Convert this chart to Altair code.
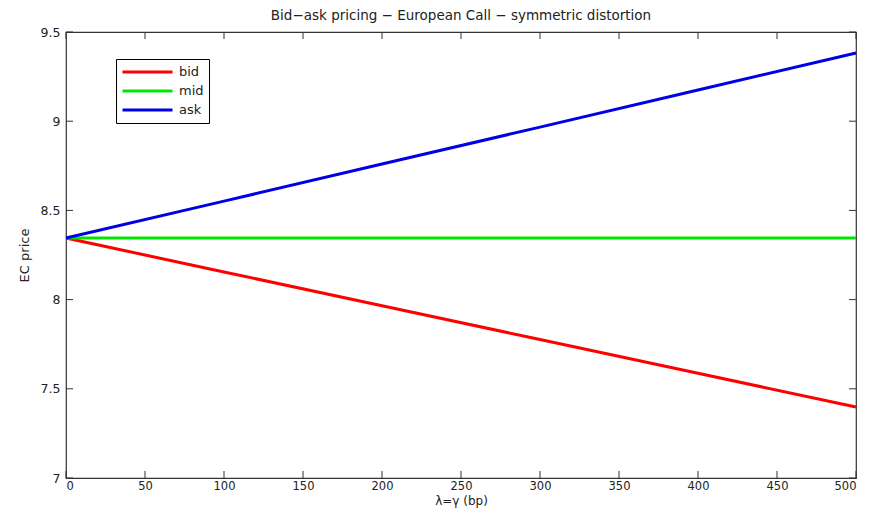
import altair as alt
import pandas as pd

lam = [0, 100, 200, 300, 400, 500]
bid = [8.345, 8.155, 7.966, 7.776, 7.587, 7.398]
mid = [8.345, 8.345, 8.345, 8.345, 8.345, 8.345]
ask = [8.345, 8.552, 8.760, 8.967, 9.175, 9.382]
series = ["bid", "mid", "ask"]
colors = ["#ff0000", "#00e600", "#0000e6"]
x_ticks = [0, 50, 100, 150, 200, 250, 300, 350, 400, 450, 500]
y_ticks = [7, 7.5, 8, 8.5, 9, 9.5]

W, H = 790, 446
FONT = "DejaVu Sans"

rows = []
for name, vals in zip(series, [bid, mid, ask]):
    for xv, yv in zip(lam, vals):
        rows.append({"lam": xv, "price": yv, "series": name})
df = pd.DataFrame(rows)

xscale = alt.Scale(domain=[0, 500], nice=False, zero=False)
yscale = alt.Scale(domain=[7, 9.5], nice=False, zero=False)

lines = alt.Chart(df).mark_line(strokeWidth=3).encode(
    x=alt.X("lam:Q", scale=xscale,
            axis=alt.Axis(title="λ=γ (bp)", values=x_ticks, ticks=False, grid=False,
                          labelPadding=2, domain=False,
                          titleY=26.5, titleBaseline="alphabetic",
                          labelFontSize=11.5, titleFontSize=12)),
    y=alt.Y("price:Q", scale=yscale,
            axis=alt.Axis(title="EC price", values=y_ticks, format="~g", ticks=False,
                          grid=False, labelPadding=6, titlePadding=9, domain=False,
                          labelFontSize=12.5, titleFontSize=13)),
    color=alt.Color("series:N", sort=series,
                    scale=alt.Scale(domain=series, range=colors),
                    legend=alt.Legend(title=None, orient="none", legendX=50, legendY=27,
                                      symbolType="stroke", symbolSize=2500,
                                      symbolStrokeWidth=3, clipHeight=16,
                                      strokeColor="black", fillColor="white",
                                      padding=5, labelFontSize=13, labelFont=FONT,
                                      labelColor="#222222", rowPadding=3,
                                      labelOffset=5)),
)

xt = pd.DataFrame({"v": x_ticks})
yt = pd.DataFrame({"v": y_ticks})
tick_col = "#333333"
bottom_ticks = alt.Chart(xt).mark_rule(color=tick_col, strokeWidth=1).encode(
    x=alt.X("v:Q", scale=xscale), y=alt.value(H), y2=alt.value(H - 7))
top_ticks = alt.Chart(xt).mark_rule(color=tick_col, strokeWidth=1).encode(
    x=alt.X("v:Q", scale=xscale), y=alt.value(0), y2=alt.value(7))
left_ticks = alt.Chart(yt).mark_rule(color=tick_col, strokeWidth=1).encode(
    y=alt.Y("v:Q", scale=yscale), x=alt.value(0), x2=alt.value(7))
right_ticks = alt.Chart(yt).mark_rule(color=tick_col, strokeWidth=1).encode(
    y=alt.Y("v:Q", scale=yscale), x=alt.value(W), x2=alt.value(W - 7))

chart = alt.layer(lines, bottom_ticks, top_ticks, left_ticks, right_ticks).properties(
    width=W, height=H,
    title=alt.TitleParams("Bid\u2212ask pricing \u2212 European Call \u2212 symmetric distortion",
                          font=FONT, fontSize=13.5, fontWeight="normal", color="#222222",
                          anchor="middle", offset=4),
    autosize=alt.AutoSizeParams(type="none"),
    padding={"left": 58, "top": 24, "right": 5, "bottom": 30},
).configure(background="white").configure_view(
    stroke="#333333", strokeWidth=1.2
).configure_axis(
    labelFont=FONT, labelColor="#222222",
    titleFont=FONT, titleFontWeight="normal", titleColor="#222222",
)

chart.save("out.html", embed_options={"renderer": "svg", "actions": False})
